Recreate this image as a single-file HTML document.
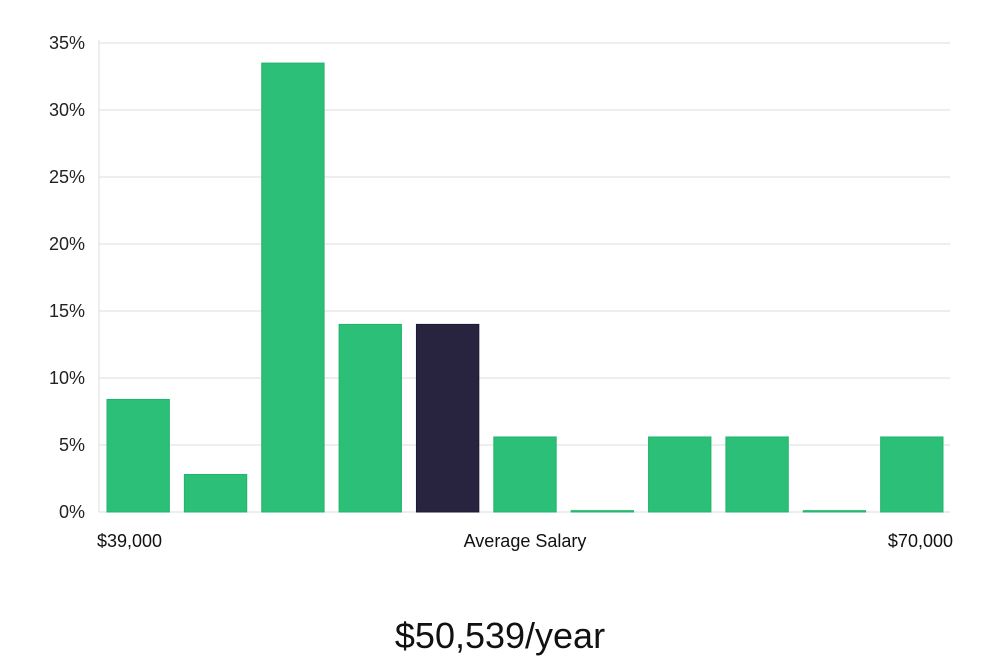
<!DOCTYPE html>
<html><head><meta charset="utf-8"><style>
body{margin:0;background:#fff;width:1000px;height:660px;overflow:hidden;font-family:"Liberation Sans",sans-serif}
</style></head><body>
<svg id="chart" width="1000" height="660" xmlns="http://www.w3.org/2000/svg"></svg>
<script>
const categories=["b1","b2","b3","b4","b5","b6","b7","b8","b9","b10","b11"];
const values=[8.4,2.8,33.5,14.0,14.0,5.6,0.1,5.6,5.6,0.1,5.6];
const highlight=[false,false,false,false,true,false,false,false,false,false,false];
const yTicks=[0,5,10,15,20,25,30,35];
const NS="http://www.w3.org/2000/svg";
const svg=document.getElementById('chart');
const X0=99,X1=950,Y0=512,Y1=43,YMAX=35;
const y=v=>Y0-(v/YMAX)*(Y0-Y1);
const slot=(X1-X0)/categories.length;
const x=i=>X0+i*slot;
function mk(t,a){const e=document.createElementNS(NS,t);for(const k in a)e.setAttribute(k,a[k]);svg.appendChild(e);return e;}
yTicks.forEach(t=>{
 const g=mk('line',{x1:X0,x2:X1,y1:y(t),y2:y(t),stroke:'#dcdcdc','stroke-width':1});
 
 
 const l=mk('text',{x:85,y:y(t)+6,'text-anchor':'end','font-size':18,fill:'#222'});
 l.textContent=t+'%';
 
 
});
const ax=mk('line',{x1:X0,x2:X0,y1:40,y2:Y0,stroke:'#dcdcdc','stroke-width':1});


values.forEach((v,i)=>{
 const top=y(v);
 const r=mk('rect',{x:x(i)+8,y:top,width:slot-15,height:Math.max(Y0-top,1),fill:highlight[i]?'#28243f':'#2bbf77',stroke:highlight[i]?'#1c1836':'#22b46c','stroke-width':1});
 
 
});
function txt(s,xx,yy,anchor,size,name,extra){const t=mk('text',Object.assign({x:xx,y:yy,'text-anchor':anchor,'font-size':size,fill:'#111'},extra||{}));t.textContent=s;
 
 return t;}
txt('$39,000',97,547,'start',18,'x-min-label');
txt('Average Salary',525,547,'middle',18,'x-average-label');
txt('$70,000',953,547,'end',18,'x-max-label');
txt('$50,539/year',500,648,'middle',36,'average-salary-value',{'font-weight':'300','fill':'#111'});
</script>
</body></html>
